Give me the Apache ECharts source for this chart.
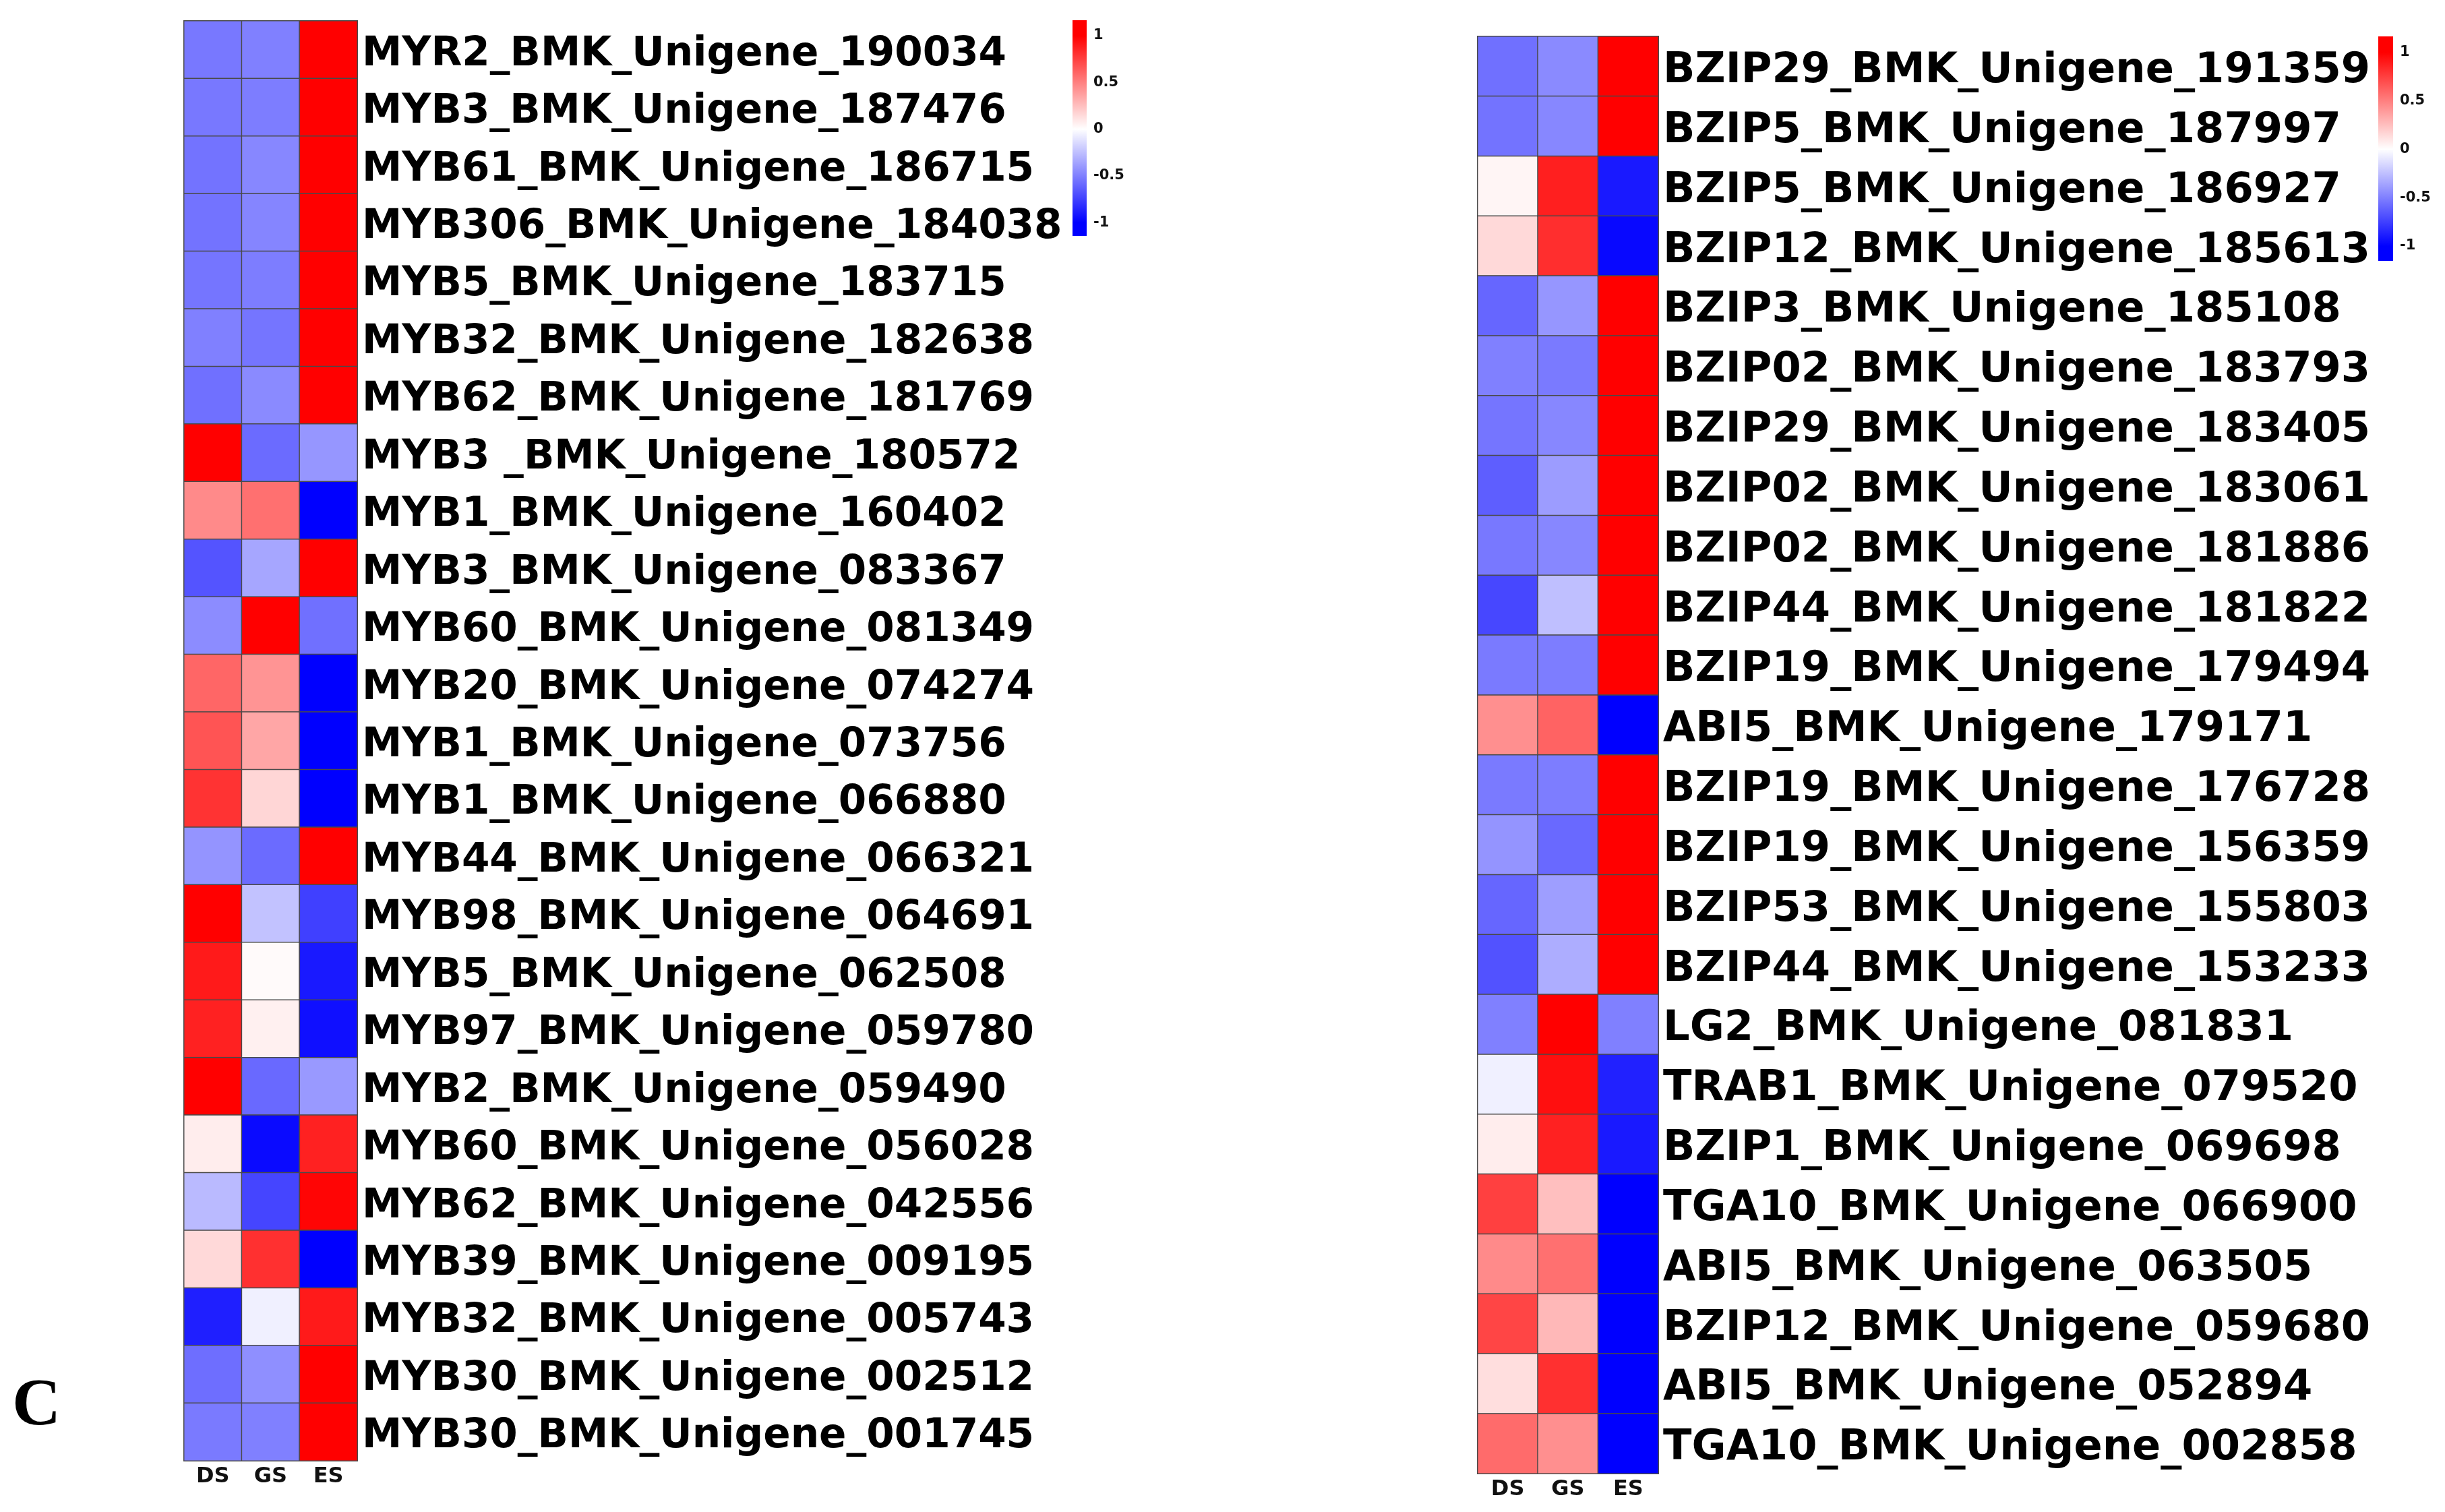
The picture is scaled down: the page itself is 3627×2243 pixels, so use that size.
<!DOCTYPE html>
<html>
<head>
<meta charset="utf-8">
<script src="https://cdn.jsdelivr.net/npm/echarts@6/dist/echarts.min.js"></script>
<style>
  html, body { margin: 0; padding: 0; background: #ffffff; }
  #chart { width: 3627px; height: 2243px; }
</style>
</head>
<body>
<div id="chart"></div>
<script>
// ---------------- data ----------------
const columns = ['DS', 'GS', 'ES'];

const leftGenes = [
  'MYR2_BMK_Unigene_190034', 'MYB3_BMK_Unigene_187476', 'MYB61_BMK_Unigene_186715',
  'MYB306_BMK_Unigene_184038', 'MYB5_BMK_Unigene_183715', 'MYB32_BMK_Unigene_182638',
  'MYB62_BMK_Unigene_181769', 'MYB3 _BMK_Unigene_180572', 'MYB1_BMK_Unigene_160402',
  'MYB3_BMK_Unigene_083367', 'MYB60_BMK_Unigene_081349', 'MYB20_BMK_Unigene_074274',
  'MYB1_BMK_Unigene_073756', 'MYB1_BMK_Unigene_066880', 'MYB44_BMK_Unigene_066321',
  'MYB98_BMK_Unigene_064691', 'MYB5_BMK_Unigene_062508', 'MYB97_BMK_Unigene_059780',
  'MYB2_BMK_Unigene_059490', 'MYB60_BMK_Unigene_056028', 'MYB62_BMK_Unigene_042556',
  'MYB39_BMK_Unigene_009195', 'MYB32_BMK_Unigene_005743', 'MYB30_BMK_Unigene_002512',
  'MYB30_BMK_Unigene_001745'
];
const leftDS = [-0.53, -0.53, -0.55, -0.55, -0.54, -0.50, -0.56, 1.00, 0.46, -0.67, -0.45, 0.60, 0.67, 0.80, -0.42, 1.00, 0.90, 0.87, 1.00, 0.07, -0.27, 0.15, -0.88, -0.57, -0.52];
const leftGS = [-0.50, -0.51, -0.47, -0.48, -0.51, -0.54, -0.46, -0.58, 0.56, -0.35, 1.00, 0.42, 0.35, 0.16, -0.58, -0.24, 0.02, 0.06, -0.59, -0.96, -0.73, 0.81, -0.06, -0.44, -0.50];
const leftES = [1.00, 1.00, 1.00, 1.00, 1.00, 1.00, 1.00, -0.41, -1.00, 1.00, -0.56, -1.00, -1.00, -1.00, 1.00, -0.75, -0.90, -0.94, -0.40, 0.87, 0.98, -1.00, 0.90, 1.00, 1.00];

const rightGenes = [
  'BZIP29_BMK_Unigene_191359', 'BZIP5_BMK_Unigene_187997', 'BZIP5_BMK_Unigene_186927',
  'BZIP12_BMK_Unigene_185613', 'BZIP3_BMK_Unigene_185108', 'BZIP02_BMK_Unigene_183793',
  'BZIP29_BMK_Unigene_183405', 'BZIP02_BMK_Unigene_183061', 'BZIP02_BMK_Unigene_181886',
  'BZIP44_BMK_Unigene_181822', 'BZIP19_BMK_Unigene_179494', 'ABI5_BMK_Unigene_179171',
  'BZIP19_BMK_Unigene_176728', 'BZIP19_BMK_Unigene_156359', 'BZIP53_BMK_Unigene_155803',
  'BZIP44_BMK_Unigene_153233', 'LG2_BMK_Unigene_081831', 'TRAB1_BMK_Unigene_079520',
  'BZIP1_BMK_Unigene_069698', 'TGA10_BMK_Unigene_066900', 'ABI5_BMK_Unigene_063505',
  'BZIP12_BMK_Unigene_059680', 'ABI5_BMK_Unigene_052894', 'TGA10_BMK_Unigene_002858'
];
const rightDS = [-0.56, -0.55, 0.04, 0.15, -0.60, -0.50, -0.54, -0.63, -0.53, -0.72, -0.52, 0.44, -0.52, -0.42, -0.60, -0.68, -0.50, -0.06, 0.07, 0.75, 0.46, 0.73, 0.13, 0.58];
const rightGS = [-0.46, -0.47, 0.88, 0.82, -0.41, -0.52, -0.47, -0.39, -0.47, -0.25, -0.51, 0.61, -0.51, -0.59, -0.38, -0.32, 1.00, 0.94, 0.87, 0.25, 0.56, 0.28, 0.81, 0.44];
const rightES = [1.00, 1.00, -0.90, -0.97, 1.00, 1.00, 1.00, 1.00, 1.00, 1.00, 1.00, -1.00, 1.00, 1.00, 1.00, 1.00, -0.50, -0.87, -0.90, -1.00, -1.00, -1.00, -1.00, -1.00];

const colorTicks = [-1, -0.5, 0, 0.5, 1];
const leftBarRange = [-1.144, 1.166];
const rightBarRange = [-1.153, 1.166];

// ---------------- build ----------------
function cells(ds, gs, es) {
  const out = [];
  [ds, gs, es].forEach((arr, ci) => arr.forEach((v, ri) => out.push([ci, ri, v])));
  return out;
}

const FONT = '"DejaVu Sans", sans-serif';

function gradientFor(range) {
  const lo = range[0], hi = range[1], span = hi - lo;
  const off = v => (hi - v) / span;
  return new echarts.graphic.LinearGradient(0, 0, 0, 1, [
    { offset: 0, color: '#ff0000' },
    { offset: off(1), color: '#ff0000' },
    { offset: off(0), color: '#ffffff' },
    { offset: off(-1), color: '#0000ff' },
    { offset: 1, color: '#0000ff' }
  ]);
}

function barRender(range) {
  return function (params, api) {
    const p1 = api.coord([0, api.value(2)]);
    const p2 = api.coord([1, api.value(1)]);
    return {
      type: 'rect',
      shape: { x: p1[0], y: p1[1], width: p2[0] - p1[0], height: p2[1] - p1[1] },
      style: { fill: gradientFor(range) }
    };
  };
}

const chart = echarts.init(document.getElementById('chart'), null, { renderer: 'canvas' });

const labelY = (size) => ({
  show: true, fontSize: size, fontWeight: 'bold', color: '#000', fontFamily: FONT, margin: 7,
  formatter: v => '{g|' + v + '}',
  rich: {
    g: { fontSize: size, fontWeight: 'bold', color: '#000', fontFamily: FONT, padding: [15, 0, 0, 0] }
  }
});
const labelX = {
  show: true, fontSize: 32, fontWeight: 'bold', color: '#111', fontFamily: FONT, margin: 8
};
const cbLabel = {
  show: true, fontSize: 21, fontWeight: 'bold', color: '#111', fontFamily: FONT, margin: 10,
  customValues: colorTicks
};

const option = {
  backgroundColor: '#ffffff',
  animation: false,
  grid: [
    { left: 273, top: 31, width: 257, height: 2136 },
    { left: 2192, top: 54, width: 268, height: 2132 },
    { left: 1591, top: 30, width: 21, height: 320 },
    { left: 3528, top: 54, width: 22, height: 333 }
  ],
  xAxis: [
    { type: 'category', data: columns, gridIndex: 0, position: 'bottom',
      axisLine: { show: false }, axisTick: { show: false }, splitLine: { show: false },
      axisLabel: labelX },
    { type: 'category', data: columns, gridIndex: 1, position: 'bottom',
      axisLine: { show: false }, axisTick: { show: false }, splitLine: { show: false },
      axisLabel: labelX },
    { type: 'value', gridIndex: 2, min: 0, max: 1, show: false },
    { type: 'value', gridIndex: 3, min: 0, max: 1, show: false }
  ],
  yAxis: [
    { type: 'category', data: leftGenes, gridIndex: 0, inverse: true, position: 'right',
      axisLine: { show: false }, axisTick: { show: false }, splitLine: { show: false },
      axisLabel: labelY(59.6) },
    { type: 'category', data: rightGenes, gridIndex: 1, inverse: true, position: 'right',
      axisLine: { show: false }, axisTick: { show: false }, splitLine: { show: false },
      axisLabel: labelY(62.3) },
    { type: 'value', gridIndex: 2, min: leftBarRange[0], max: leftBarRange[1], position: 'right',
      axisLine: { show: false }, axisTick: { show: false }, splitLine: { show: false },
      axisLabel: cbLabel },
    { type: 'value', gridIndex: 3, min: rightBarRange[0], max: rightBarRange[1], position: 'right',
      axisLine: { show: false }, axisTick: { show: false }, splitLine: { show: false },
      axisLabel: cbLabel }
  ],
  visualMap: [{
    type: 'continuous', show: false, min: -1, max: 1, seriesIndex: [0, 1],
    inRange: { color: ['#0000ff', '#ffffff', '#ff0000'] }
  }],
  series: [
    { type: 'heatmap', xAxisIndex: 0, yAxisIndex: 0, data: cells(leftDS, leftGS, leftES),
      itemStyle: { borderColor: '#4a4a4a', borderWidth: 1.5 }, emphasis: { disabled: true } },
    { type: 'heatmap', xAxisIndex: 1, yAxisIndex: 1, data: cells(rightDS, rightGS, rightES),
      itemStyle: { borderColor: '#4a4a4a', borderWidth: 1.5 }, emphasis: { disabled: true } },
    { type: 'custom', xAxisIndex: 2, yAxisIndex: 2, data: [[0, leftBarRange[0], leftBarRange[1]]],
      renderItem: barRender(leftBarRange), silent: true },
    { type: 'custom', xAxisIndex: 3, yAxisIndex: 3, data: [[0, rightBarRange[0], rightBarRange[1]]],
      renderItem: barRender(rightBarRange), silent: true }
  ],
  graphic: [{
    type: 'text', left: 18, top: 2037,
    style: { text: 'C', font: 'bold 100px "Liberation Serif", "Times New Roman", serif', fill: '#000' }
  }]
};

chart.setOption(option);
</script>
</body>
</html>
